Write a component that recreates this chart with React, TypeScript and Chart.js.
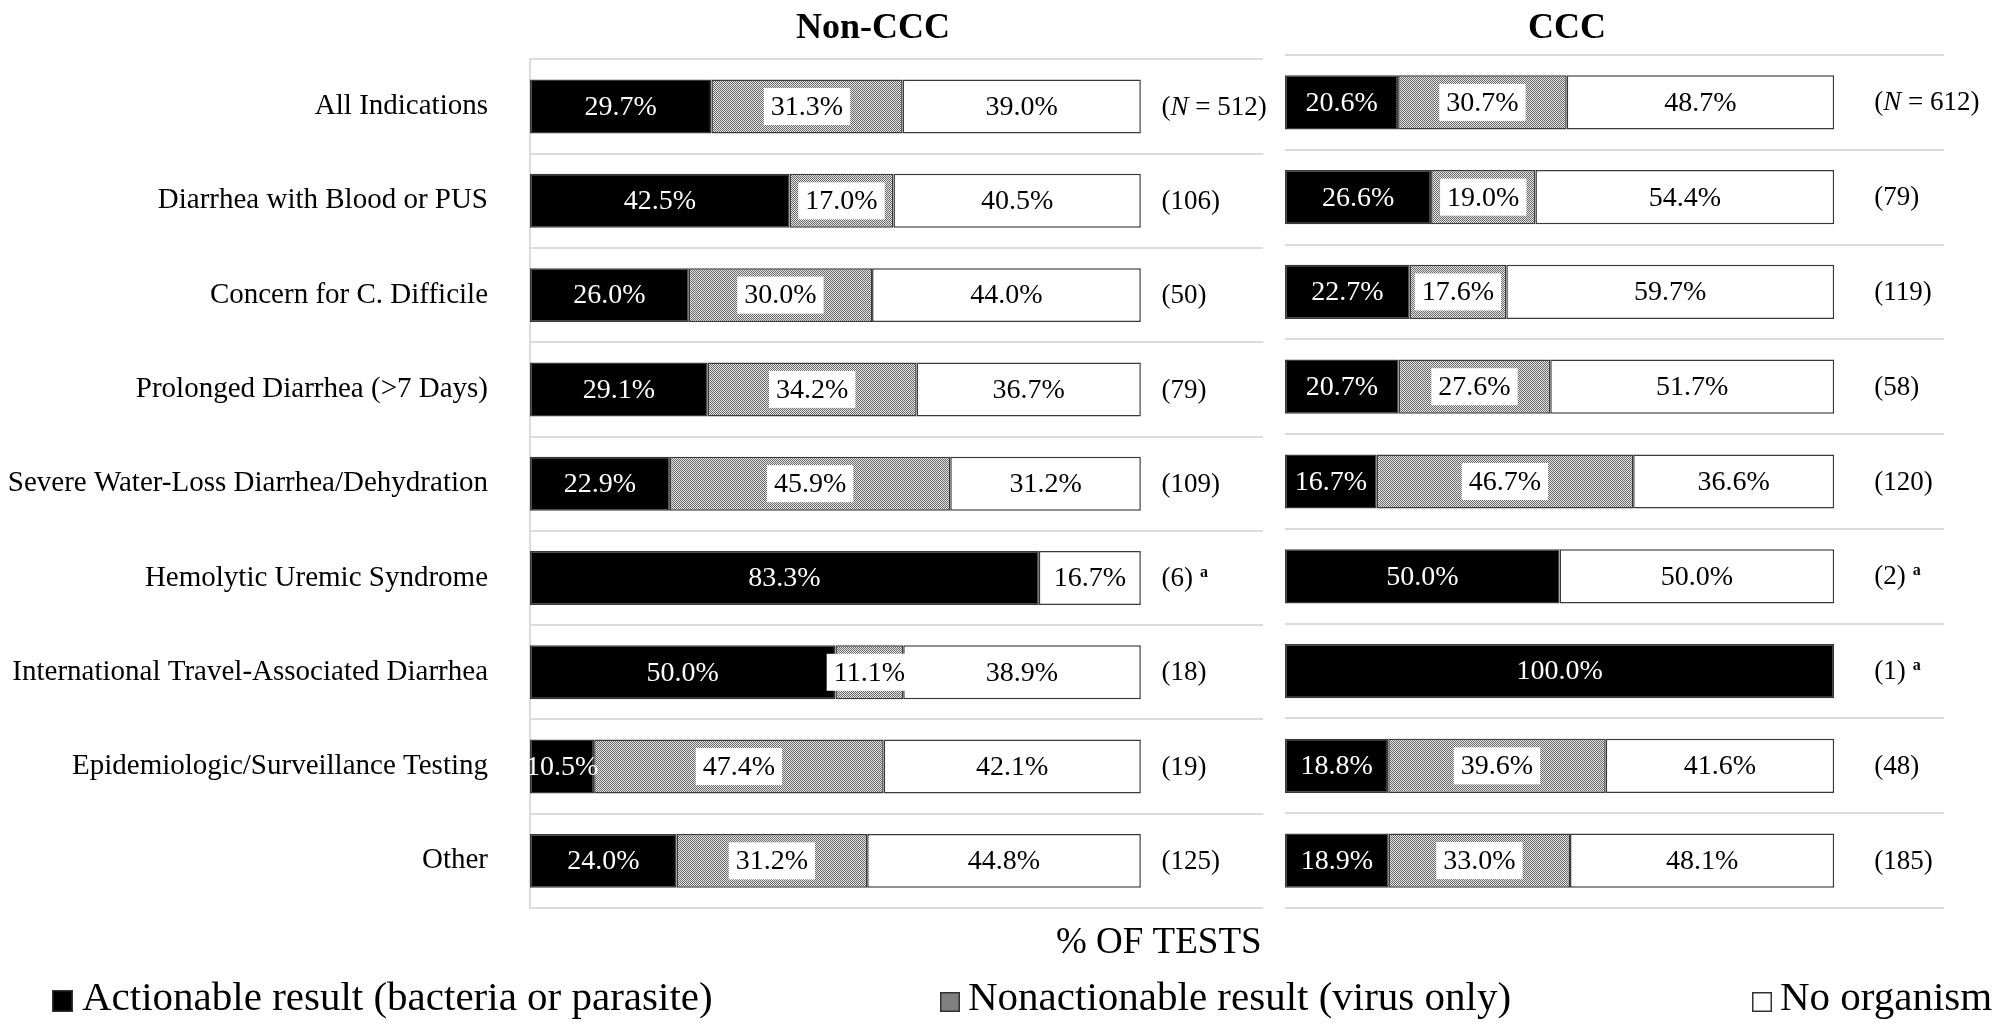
import React, { useEffect, useRef } from 'react';
import { Chart, registerables } from 'chart.js';

Chart.register(...registerables);

const FONT = "'Liberation Serif', 'Times New Roman', 'DejaVu Serif', serif";

const categories = [
  'All Indications',
  'Diarrhea with Blood or PUS',
  'Concern for C. Difficile',
  'Prolonged Diarrhea (>7 Days)',
  'Severe Water-Loss Diarrhea/Dehydration',
  'Hemolytic Uremic Syndrome',
  'International Travel-Associated Diarrhea',
  'Epidemiologic/Surveillance Testing',
  'Other',
];

const seriesNames = [
  'Actionable result (bacteria or parasite)',
  'Nonactionable result (virus only)',
  'No organism',
];

const panelTitles = ['Non-CCC', 'CCC'];
const axisTitle = '% OF TESTS';

const nonCccActionable = [29.7, 42.5, 26.0, 29.1, 22.9, 83.3, 50.0, 10.5, 24.0];
const nonCccNonactionable = [31.3, 17.0, 30.0, 34.2, 45.9, 0, 11.1, 47.4, 31.2];
const nonCccNone = [39.0, 40.5, 44.0, 36.7, 31.2, 16.7, 38.9, 42.1, 44.8];
const nonCccCounts = [512, 106, 50, 79, 109, 6, 18, 19, 125];
const nonCccFootnotes = ['', '', '', '', '', 'a', '', '', ''];

const cccActionable = [20.6, 26.6, 22.7, 20.7, 16.7, 50.0, 100.0, 18.8, 18.9];
const cccNonactionable = [30.7, 19.0, 17.6, 27.6, 46.7, 0, 0, 39.6, 33.0];
const cccNone = [48.7, 54.4, 59.7, 51.7, 36.6, 50.0, 0, 41.6, 48.1];
const cccCounts = [612, 79, 119, 58, 120, 2, 1, 48, 185];
const cccFootnotes = ['', '', '', '', '', 'a', 'a', '', ''];

const GRID = '#dcdcdc';
const EDGE = '#3a3a3a';

function makePattern(): CanvasPattern | string {
  const c = document.createElement('canvas');
  c.width = 4;
  c.height = 4;
  const g = c.getContext('2d');
  if (!g) return '#a8a8a8';
  g.fillStyle = '#e8e8e8';
  g.fillRect(0, 0, 4, 4);
  g.fillStyle = '#666666';
  for (let y = 0; y < 4; y++) {
    for (let x = 0; x < 4; x++) {
      if ((x + y) % 2 === 0) g.fillRect(x, y, 1, 1);
    }
  }
  return g.createPattern(c, 'repeat') || '#a8a8a8';
}

type PanelCfg = {
  title: string;
  titleX: number;
  counts: number[];
  footnotes: string[];
  nValue: number;
  shared: boolean;
};

function makeDecor(cfg: PanelCfg) {
  return {
    id: 'panelDecor',
    afterDatasetsDraw(chart: any) {
      const ctx: CanvasRenderingContext2D = chart.ctx;
      const xs = chart.scales.x;
      ctx.save();
      // segment labels
      chart.data.datasets.forEach((ds: any, di: number) => {
        const meta = chart.getDatasetMeta(di);
        meta.data.forEach((el: any, j: number) => {
          const v = ds.data[j];
          if (!v) return;
          const { x, base, y } = el.getProps(['x', 'base', 'y'], true);
          const cx = (x + base) / 2;
          const txt = v.toFixed(1) + '%';
          ctx.font = `28px ${FONT}`;
          ctx.textAlign = 'center';
          ctx.textBaseline = 'middle';
          if (di === 1) {
            const w = ctx.measureText(txt).width + 14;
            ctx.fillStyle = '#ffffff';
            ctx.fillRect(cx - w / 2, y - 18.5, w, 37);
          }
          ctx.fillStyle = di === 0 ? '#ffffff' : '#000000';
          ctx.fillText(txt, cx, y + 1);
        });
      });
      // N labels
      const meta0 = chart.getDatasetMeta(0);
      const nx = xs.getPixelForValue(cfg.nValue);
      cfg.counts.forEach((n, j) => {
        const el = meta0.data[j];
        const y = el.y + 1;
        ctx.textAlign = 'left';
        ctx.textBaseline = 'middle';
        ctx.fillStyle = '#000';
        let cur = nx;
        const piece = (t: string, font: string) => {
          ctx.font = font;
          ctx.fillText(t, cur, y);
          cur += ctx.measureText(t).width;
        };
        if (j === 0) {
          piece('(', `27px ${FONT}`);
          piece('N', `italic 27px ${FONT}`);
          piece(' = ' + n + ')', `27px ${FONT}`);
        } else {
          piece('(' + n + ')', `27px ${FONT}`);
        }
        const fn = cfg.footnotes[j];
        if (fn) {
          ctx.font = `bold 16px ${FONT}`;
          ctx.fillText(fn, cur + 7, y - 6);
        }
      });
      // panel title
      ctx.font = `bold 36px ${FONT}`;
      ctx.textAlign = 'center';
      ctx.textBaseline = 'alphabetic';
      ctx.fillStyle = '#000';
      ctx.fillText(cfg.title, cfg.titleX, 38);

      if (cfg.shared) {
        // axis title
        ctx.font = `37px ${FONT}`;
        ctx.textAlign = 'left';
        ctx.fillText(axisTitle, 1056, 953);
        // legend
        const items = [
          { x: 52, y: 990, w: 21, h: 22, fill: '#000000', text: seriesNames[0], tx: 82 },
          { x: 940, y: 992, w: 20, h: 20, fill: '#808080', text: seriesNames[1], tx: 968 },
          { x: 1752, y: 992, w: 20, h: 20, fill: '#ffffff', text: seriesNames[2], tx: 1780 },
        ];
        items.forEach((it) => {
          ctx.fillStyle = it.fill;
          ctx.fillRect(it.x, it.y, it.w, it.h);
          ctx.lineWidth = 1.5;
          ctx.strokeStyle = '#333';
          ctx.strokeRect(it.x + 0.75, it.y + 0.75, it.w - 1.5, it.h - 1.5);
          ctx.fillStyle = '#000';
          ctx.font = `41px ${FONT}`;
          ctx.textBaseline = 'alphabetic';
          ctx.fillText(it.text, it.tx, 1010);
        });
      }
      ctx.restore();
    },
  };
}

function buildChart(
  canvas: HTMLCanvasElement,
  values: number[][],
  pattern: CanvasPattern | string,
  cfg: PanelCfg,
  area: { left: number; top: number; bottom: number; right: number },
  showLabels: boolean
) {
  const fills = ['#000000', pattern, '#ffffff'];
  return new Chart(canvas, {
    type: 'bar',
    data: {
      labels: categories,
      datasets: values.map((vals, i) => ({
        label: seriesNames[i],
        data: vals,
        backgroundColor: fills[i] as any,
        borderColor: EDGE,
        borderWidth: 1.5,
        borderSkipped: false,
        barPercentage: 0.572,
        categoryPercentage: 1,
      })),
    },
    options: {
      indexAxis: 'y',
      responsive: false,
      animation: false,
      devicePixelRatio: 1,
      events: [],
      layout: {
        padding: { left: 0, top: area.top, bottom: 1029 - area.bottom, right: 2005 - area.right },
      },
      plugins: {
        legend: { display: false },
        title: { display: false },
        tooltip: { enabled: false },
      },
      scales: {
        x: {
          stacked: true,
          min: 0,
          max: 120,
          display: false,
        },
        y: {
          stacked: true,
          afterFit: (scale: any) => {
            scale.width = area.left;
          },
          ticks: {
            display: showLabels,
            autoSkip: false,
            padding: 42,
            color: '#000',
            font: { family: FONT, size: 29 },
          },
          grid: {
            color: GRID,
            lineWidth: 2,
            drawTicks: false,
          },
          border: {
            display: showLabels,
            color: GRID,
            width: 2,
          },
        },
      },
    },
    plugins: [makeDecor(cfg)],
  } as any);
}

export default function App() {
  const leftRef = useRef<HTMLCanvasElement>(null);
  const rightRef = useRef<HTMLCanvasElement>(null);

  useEffect(() => {
    document.body.style.margin = '0';
    const pattern = makePattern();
    const left = buildChart(
      leftRef.current as HTMLCanvasElement,
      [nonCccActionable, nonCccNonactionable, nonCccNone],
      pattern,
      { title: panelTitles[0], titleX: 873, counts: nonCccCounts, footnotes: nonCccFootnotes, nValue: 103.4, shared: true },
      { left: 530, top: 58, bottom: 908, right: 1263 },
      true
    );
    const right = buildChart(
      rightRef.current as HTMLCanvasElement,
      [cccActionable, cccNonactionable, cccNone],
      pattern,
      { title: panelTitles[1], titleX: 1567, counts: cccCounts, footnotes: cccFootnotes, nValue: 107.3, shared: false },
      { left: 1285, top: 55, bottom: 908, right: 1944 },
      false
    );
    return () => {
      left.destroy();
      right.destroy();
    };
  }, []);

  return (
    <div style={{ position: 'absolute', left: 0, top: 0, width: 2005, height: 1029, background: '#ffffff' }}>
      <canvas ref={leftRef} width={2005} height={1029} style={{ position: 'absolute', left: 0, top: 0 }} />
      <canvas ref={rightRef} width={2005} height={1029} style={{ position: 'absolute', left: 0, top: 0 }} />
    </div>
  );
}
